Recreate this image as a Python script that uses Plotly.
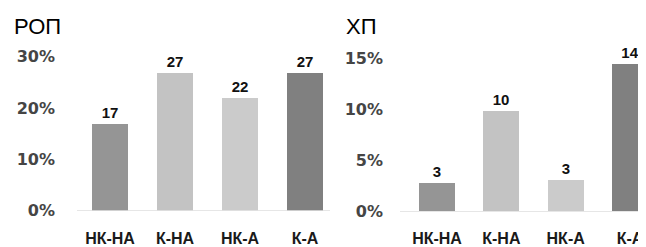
import plotly.graph_objects as go

categories = ["НК-НА", "К-НА", "НК-А", "К-А"]
rop_values = [17, 27, 22, 27]
hp_values = [2.7, 9.8, 3.0, 14.4]
bar_colors = ["#959595", "#c3c3c3", "#cbcbcb", "#808080"]
rop_ticks = [0, 10, 20, 30]
hp_ticks = [0, 5, 10, 15]
titles = ["РОП", "ХП"]

# page body has an 8px margin, so the figure is laid out in page coords minus 8
W, H = 638, 239
OFF = 8

fig = go.Figure()
x_idx = list(range(len(categories)))

val_font = dict(family="Liberation Sans", size=15, color="#111111", weight="bold")

fig.add_trace(go.Bar(
    x=x_idx, y=rop_values, xaxis="x", yaxis="y",
    marker=dict(color=bar_colors, line=dict(width=0)),
    width=0.555,
    text=[f"{round(v)}" for v in rop_values], textposition="outside",
    textfont=val_font, cliponaxis=False,
    showlegend=False, hoverinfo="skip",
))
fig.add_trace(go.Bar(
    x=x_idx, y=hp_values, xaxis="x2", yaxis="y2",
    marker=dict(color=bar_colors, line=dict(width=0)),
    width=0.56,
    text=[f"{round(v)}" for v in hp_values], textposition="outside",
    textfont=val_font, cliponaxis=False,
    showlegend=False, hoverinfo="skip",
))

xtick_font = dict(family="Liberation Sans", size=16, color="#1a1a1a", weight="bold")
ytick_font = dict(family="DejaVu Sans", size=16, color="#454545", weight="bold")


def px(v):
    return (v - OFF) / W


def py(v):
    return (H - (v - OFF)) / H


fig.update_layout(
    width=W, height=H,
    margin=dict(l=0, r=0, t=0, b=0),
    paper_bgcolor="white", plot_bgcolor="white",
    bargap=0,
    xaxis=dict(domain=[px(77), px(330)], range=[(77 - 110) / 65, (330 - 110) / 65],
               tickmode="array", tickvals=x_idx, ticktext=categories,
               tickfont=xtick_font, showgrid=False, zeroline=False, showline=False,
               ticks="", ticklabelstandoff=17, anchor="y"),
    yaxis=dict(domain=[py(219), py(43)], range=[0, 33],
               tickmode="array", tickvals=rop_ticks, ticktext=[f"{t}%" for t in rop_ticks],
               tickfont=ytick_font, showgrid=False, zeroline=True,
               zerolinecolor="#e6e6e6", zerolinewidth=1, showline=False,
               ticks="", ticklabelstandoff=21, anchor="x"),
    xaxis2=dict(domain=[px(400), 1.0], range=[(400 - 437) / 64.33, (646 - 437) / 64.33],
                tickmode="array", tickvals=x_idx, ticktext=categories,
                tickfont=xtick_font, showgrid=False, zeroline=False, showline=False,
                ticks="", ticklabelstandoff=16, anchor="y2"),
    yaxis2=dict(domain=[py(220), py(45)], range=[0, 16.5],
                tickmode="array", tickvals=hp_ticks, ticktext=[f"{t}%" for t in hp_ticks],
                tickfont=ytick_font, showgrid=False, zeroline=True,
                zerolinecolor="#e6e6e6", zerolinewidth=1, showline=False,
                ticks="", ticklabelstandoff=16, anchor="x2"),
    annotations=[
        dict(text=titles[0], x=px(12), y=py(27), xref="paper", yref="paper",
             xanchor="left", yanchor="middle", showarrow=False,
             font=dict(family="Liberation Sans", size=22, color="#000000")),
        dict(text=titles[1], x=px(344), y=py(27), xref="paper", yref="paper",
             xanchor="left", yanchor="middle", showarrow=False,
             font=dict(family="Liberation Sans", size=22, color="#000000")),
    ],
)

fig.write_html("out.html")
